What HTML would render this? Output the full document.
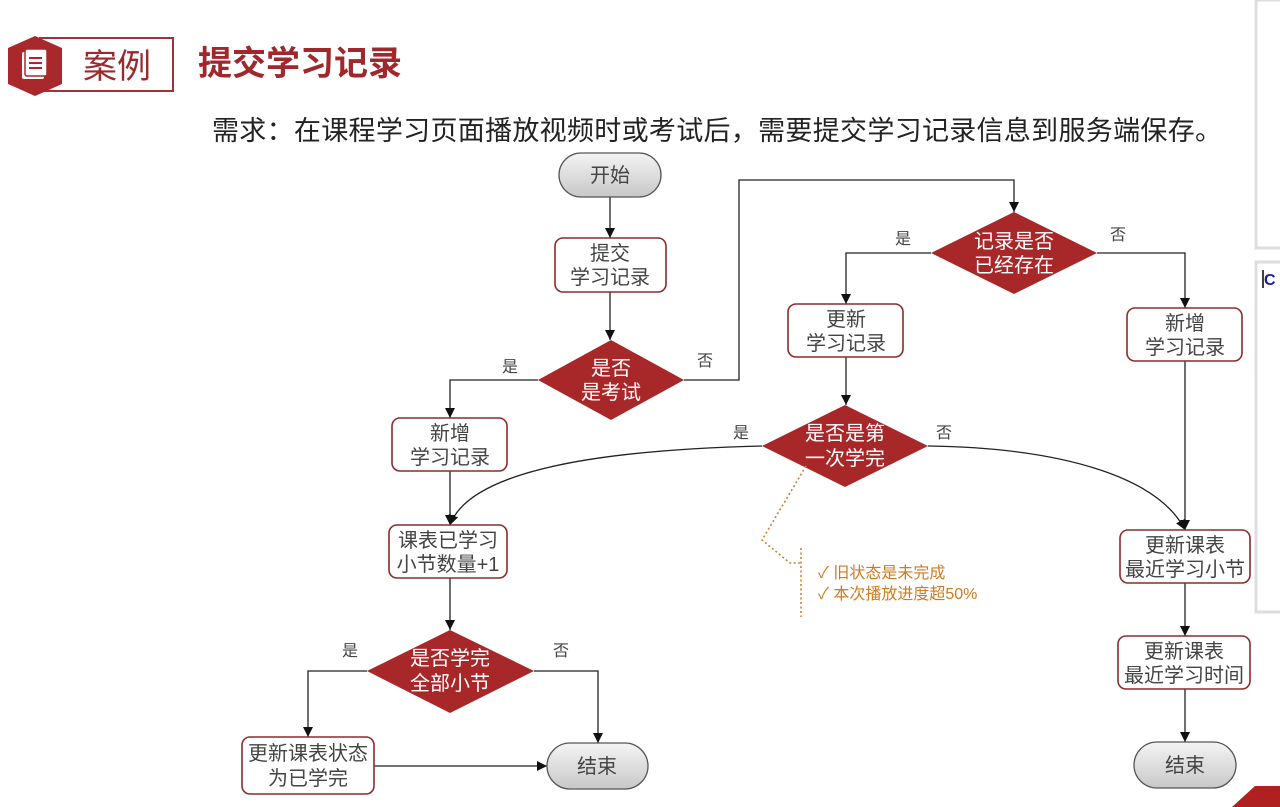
<!DOCTYPE html>
<html><head><meta charset="utf-8"><style>
html,body{margin:0;padding:0;background:#fff;}
svg{display:block;font-family:"Liberation Sans","Noto Sans CJK SC",sans-serif;}
</style></head><body>
<svg width="1280" height="807" viewBox="0 0 1280 807" xmlns="http://www.w3.org/2000/svg">
<defs>
<linearGradient id="g" x1="0" y1="0" x2="0" y2="1"><stop offset="0" stop-color="#f4f4f4"/><stop offset="1" stop-color="#c8c8c8"/></linearGradient>
<marker id="a" markerWidth="10" markerHeight="10" refX="10" refY="5" orient="auto" markerUnits="userSpaceOnUse" viewBox="0 0 10 10"><path d="M0,0 L10,5 L0,10 z" fill="#111"/></marker>
</defs>
<!-- right panels -->
<rect x="1256" y="0" width="30" height="248" fill="#fff" stroke="#ddd" stroke-width="3"/>
<rect x="1256" y="262" width="30" height="350" fill="#fff" stroke="#ddd" stroke-width="3"/>
<text x="1264" y="285" font-size="16" fill="#1a1aa0" font-weight="bold">C</text>
<line x1="1263" y1="270" x2="1263" y2="288" stroke="#000" stroke-width="1.5"/>
<polygon points="1232,807 1255,786 1280,786 1280,807" fill="#b02020"/>
<!-- header -->
<rect x="40" y="38" width="133" height="53" fill="#fff" stroke="#a23236" stroke-width="2"/>
<polygon points="35,36 62,48 62,84 35,96 8,84 8,48" fill="#a8282c"/>
<rect x="22" y="52" width="22" height="27" fill="#fff" rx="2"/>
<rect x="25" y="49" width="22" height="27" fill="#fff" stroke="#a8282c" stroke-width="1.5" rx="2"/>
<line x1="29" y1="58" x2="42" y2="58" stroke="#a8282c" stroke-width="2"/>
<line x1="29" y1="63" x2="42" y2="63" stroke="#a8282c" stroke-width="2"/>
<line x1="29" y1="68" x2="42" y2="68" stroke="#a8282c" stroke-width="2"/>
<text x="83" y="78" font-size="34" fill="#9a2a2e">案例</text>
<text x="198" y="75" font-size="34" font-weight="bold" fill="#a0282c">提交学习记录</text>
<text x="212" y="140" font-size="27" fill="#222" textLength="1010">需求：在课程学习页面播放视频时或考试后，需要提交学习记录信息到服务端保存。</text>

<!-- connectors -->
<g stroke="#222" stroke-width="1.3" fill="none">
<line x1="610" y1="197" x2="610" y2="238" marker-end="url(#a)"/>
<line x1="610" y1="292" x2="610" y2="340" marker-end="url(#a)"/>
<polyline points="538,380 450,380 450,418" marker-end="url(#a)"/>
<polyline points="684,380 739,380 739,180 1014,180 1014,212" marker-end="url(#a)"/>
<polyline points="931,253 846,253 846,304" marker-end="url(#a)"/>
<polyline points="1097,253 1185,253 1185,308" marker-end="url(#a)"/>
<line x1="846" y1="357" x2="846" y2="405" marker-end="url(#a)"/>
<line x1="1185" y1="361" x2="1185" y2="530" marker-end="url(#a)"/>
<path d="M762,446 C600,450 470,470 450,525" marker-end="url(#a)"/>
<path d="M928,446 C1070,448 1160,480 1185,530" marker-end="url(#a)"/>
<line x1="450" y1="471" x2="450" y2="525" marker-end="url(#a)"/>
<line x1="450" y1="578" x2="450" y2="630" marker-end="url(#a)"/>
<polyline points="367,671 308,671 308,737" marker-end="url(#a)"/>
<polyline points="534,671 598,671 598,743" marker-end="url(#a)"/>
<line x1="374" y1="766" x2="547" y2="766" marker-end="url(#a)"/>
<line x1="1185" y1="583" x2="1185" y2="636" marker-end="url(#a)"/>
<line x1="1185" y1="689" x2="1185" y2="742" marker-end="url(#a)"/>
</g>

<!-- edge labels -->
<g font-size="16" fill="#444">
<text x="502" y="372">是</text>
<text x="697" y="366">否</text>
<text x="895" y="244">是</text>
<text x="1110" y="240">否</text>
<text x="733" y="438">是</text>
<text x="936" y="438">否</text>
<text x="342" y="656">是</text>
<text x="553" y="656">否</text>
</g>

<!-- terminals -->
<g stroke="#555" stroke-width="1.3" fill="url(#g)">
<rect x="559" y="153" width="102" height="44" rx="22"/>
<rect x="547" y="743" width="101" height="46" rx="23"/>
<rect x="1134" y="742" width="102" height="46" rx="23"/>
</g>
<g font-size="20" fill="#444" text-anchor="middle">
<text x="610" y="182">开始</text>
<text x="597" y="773">结束</text>
<text x="1185" y="772">结束</text>
</g>

<!-- process boxes -->
<g stroke="#8e2a2c" stroke-width="1.6" fill="#fff">
<rect x="555" y="238" width="111" height="54" rx="8"/>
<rect x="392" y="418" width="115" height="53" rx="8"/>
<rect x="389" y="525" width="118" height="53" rx="8"/>
<rect x="242" y="737" width="132" height="57" rx="8"/>
<rect x="788" y="304" width="115" height="53" rx="8"/>
<rect x="1127" y="308" width="115" height="53" rx="8"/>
<rect x="1120" y="530" width="130" height="53" rx="8"/>
<rect x="1118" y="636" width="132" height="53" rx="8"/>
</g>
<g font-size="20" fill="#444" text-anchor="middle">
<text x="610" y="260">提交</text><text x="610" y="284">学习记录</text>
<text x="450" y="440">新增</text><text x="450" y="464">学习记录</text>
<text x="448" y="547">课表已学习</text><text x="448" y="571">小节数量+1</text>
<text x="308" y="760">更新课表状态</text><text x="308" y="785">为已学完</text>
<text x="846" y="326">更新</text><text x="846" y="350">学习记录</text>
<text x="1185" y="330">新增</text><text x="1185" y="354">学习记录</text>
<text x="1185" y="552">更新课表</text><text x="1185" y="576">最近学习小节</text>
<text x="1184" y="658">更新课表</text><text x="1184" y="682">最近学习时间</text>
</g>

<!-- diamonds -->
<g fill="#a8282a">
<polygon points="611,340 684,380 611,420 538,380"/>
<polygon points="1014,212 1097,253 1014,294 931,253"/>
<polygon points="845,405 928,446 845,487 762,446"/>
<polygon points="450,630 534,671 450,713 367,671"/>
</g>
<g font-size="20" fill="#fff" text-anchor="middle">
<text x="611" y="375">是否</text><text x="611" y="399">是考试</text>
<text x="1014" y="248">记录是否</text><text x="1014" y="272">已经存在</text>
<text x="845" y="440">是否是第</text><text x="845" y="465">一次学完</text>
<text x="450" y="665">是否学完</text><text x="450" y="690">全部小节</text>
</g>

<!-- annotation -->
<g stroke="#d08030" stroke-width="1.6" fill="none" stroke-dasharray="2,2.5">
<polyline points="806,466 762,540 790,563 801,563"/>
<line x1="801" y1="548" x2="801" y2="617"/>
</g>
<g font-size="16" fill="#d07a20">
<text x="818" y="578">✓ 旧状态是未完成</text>
<text x="818" y="599">✓ 本次播放进度超50%</text>
</g>
</svg>
</body></html>
